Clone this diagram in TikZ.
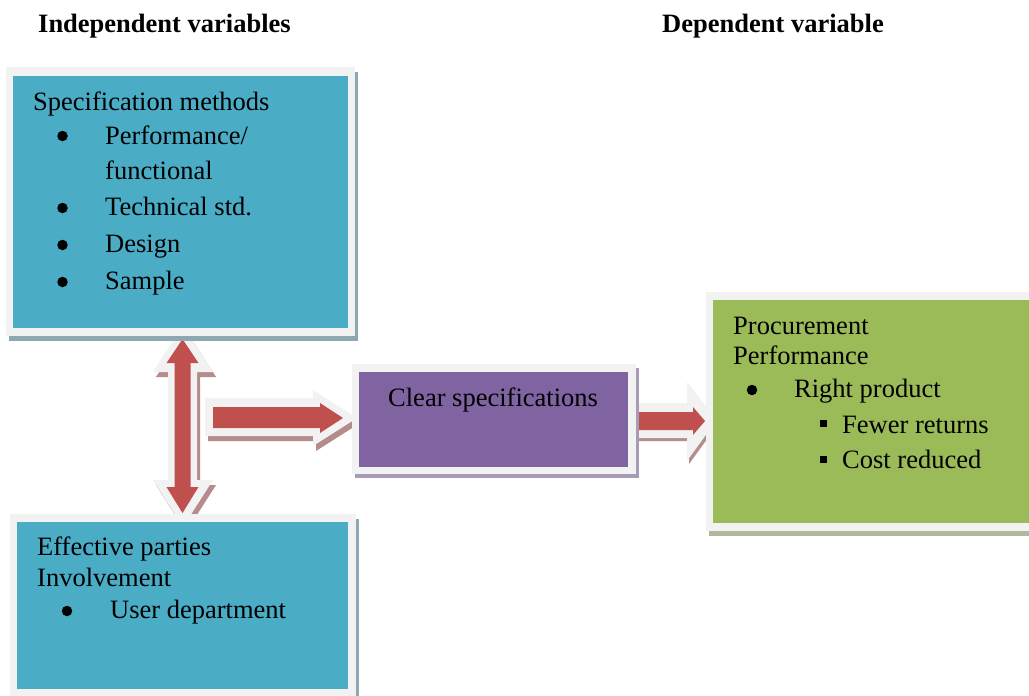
\documentclass[tikz,border=0pt]{standalone}
\usepackage{fontspec}
\setmainfont{Liberation Serif}
\definecolor{aqua}{HTML}{4BACC6}
\definecolor{plum}{HTML}{8064A2}
\definecolor{olive}{HTML}{9BBB59}
\definecolor{brick}{HTML}{C0504D}
\definecolor{framegrey}{HTML}{F2F2F2}
\definecolor{aquash}{HTML}{8CA8B2}
\definecolor{plumsh}{HTML}{A79BB5}
\definecolor{olivesh}{HTML}{AEB89E}
\definecolor{arrowsh}{HTML}{B48C8C}
\begin{document}
\begin{tikzpicture}[x=1pt,y=-1pt,
  txt/.style={anchor=base west,inner sep=0pt,font=\fontsize{26.5}{32}\selectfont},
  hd/.style={anchor=base west,inner sep=0pt,font=\fontsize{26.5}{32}\selectfont\bfseries},
  bul/.style={circle,fill=black,inner sep=0pt,minimum size=10.5pt},
  sq/.style={fill=black,inner sep=0pt,minimum size=7pt},
  boxnode/.style={inner sep=0pt,anchor=north west}]
\useasboundingbox (0,0) rectangle (1029,696);
\fill[white] (0,0) rectangle (1029,696);

% ---------- arrows (behind boxes) ----------
% vertical double arrow
\fill[arrowsh,shift={(3,5)}] (183,325) -- (213,372) -- (197,372) -- (197,480) -- (213,480) -- (183,527) -- (153,480) -- (168,480) -- (168,372) -- (153,372) -- cycle;
\fill[framegrey] (183,325) -- (213,372) -- (197,372) -- (197,480) -- (213,480) -- (183,527) -- (153,480) -- (168,480) -- (168,372) -- (153,372) -- cycle;
\fill[brick] (182.5,339) -- (198.5,363) -- (190.5,363) -- (190.5,487) -- (198.5,487) -- (182.5,513) -- (166.5,487) -- (174.5,487) -- (174.5,363) -- (166.5,363) -- cycle;

% horizontal arrow to clear specifications
\fill[arrowsh,shift={(3,5)}] (205,398) -- (313,398) -- (313,390) -- (357,418) -- (313,446) -- (313,436) -- (205,436) -- cycle;
\fill[framegrey] (205,398) -- (313,398) -- (313,390) -- (357,418) -- (313,446) -- (313,436) -- (205,436) -- cycle;
\fill[brick] (213,407) -- (320,407) -- (320,403) -- (343,418) -- (320,433) -- (320,428) -- (213,428) -- cycle;

% arrow to procurement performance
\fill[arrowsh,shift={(2,3)}] (632,403) -- (687,403) -- (687,382) -- (716,421) -- (687,461) -- (687,438) -- (632,438) -- cycle;
\fill[framegrey] (632,403) -- (687,403) -- (687,382) -- (716,421) -- (687,461) -- (687,438) -- (632,438) -- cycle;
\fill[brick] (635,412) -- (693,412) -- (693,407) -- (705,421) -- (693,435) -- (693,430) -- (635,430) -- cycle;

% ---------- boxes ----------
% specification methods
\fill[aquash] (9,72) rectangle (358,341);
\fill[framegrey] (6,67) rectangle (355,336);
\node[boxnode,fill=aqua,minimum width=335pt,minimum height=252pt] (spec) at (13,76) {};

% effective parties
\fill[aquash] (13,519) rectangle (359,700);
\fill[framegrey] (10,514) rectangle (356,700);
\node[boxnode,fill=aqua,minimum width=331pt,minimum height=167pt] (parties) at (17,522) {};

% clear specifications
\fill[plumsh] (355,368) rectangle (639,478);
\fill[framegrey] (352,364) rectangle (636,474);
\node[boxnode,fill=plum,minimum width=269pt,minimum height=95pt] (clear) at (359,372) {};

% procurement performance
\fill[olivesh] (709,297) rectangle (1040,536);
\fill[framegrey] (706,292) rectangle (1040,531);
\node[boxnode,fill=olive,minimum width=330pt,minimum height=223pt] (perf) at (713,300) {};

% ---------- headings ----------
\node[hd] (h1) at (38,32) {Independent variables};
\node[hd] (h2) at (662,32) {Dependent variable};

% ---------- texts ----------
\node[txt] (s0) at (33,110) {Specification methods};
\node[bul] (b1) at (62.5,136) {};
\node[txt] (s1) at (105,144) {Performance/};
\node[txt] (s1b) at (105,179) {functional};
\node[bul] (b2) at (62.5,208) {};
\node[txt] (s2) at (105,215) {Technical std.};
\node[bul] (b3) at (62.5,245) {};
\node[txt] (s3) at (105,252) {Design};
\node[bul] (b4) at (62.5,282) {};
\node[txt] (s4) at (105,289) {Sample};

\node[txt] (p0) at (37,555) {Effective parties};
\node[txt] (p1) at (37,586) {Involvement};
\node[bul] (b5) at (67,611) {};
\node[txt] (p2) at (110,618) {User department};

\node[txt] (c0) at (388,406) {Clear specifications};

\node[txt] (r0) at (733,334) {Procurement};
\node[txt] (r1) at (733,364) {Performance};
\node[bul] (b6) at (752,390) {};
\node[txt] (r2) at (794,397) {Right product};
\node[sq] (q1) at (823.5,423.5) {};
\node[txt] (r3) at (842,433) {Fewer returns};
\node[sq] (q2) at (823.5,459) {};
\node[txt] (r4) at (842,468) {Cost reduced};
\end{tikzpicture}
\end{document}
